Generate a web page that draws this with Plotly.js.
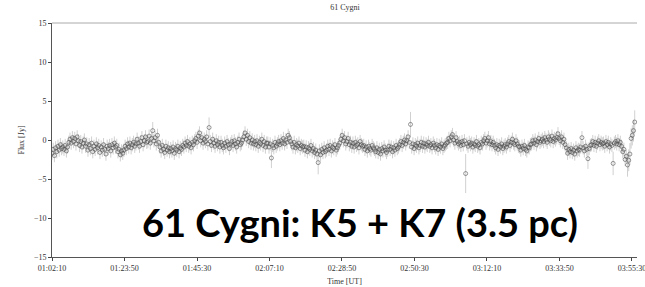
<!DOCTYPE html>
<html><head><meta charset="utf-8">
<script src="https://cdn.plot.ly/plotly-3.0.1.min.js"></script>
<style>body{margin:0;background:#fff}#c{width:645px;height:287px}</style>
</head><body><div id="c"></div>
<script>
// Observation start and sampling interval (seconds)
const startTime = '2000-01-01 01:02:10';
const sampleSec = 21.5;
// Flux values [Jy], in time order
const flux = [
-1.7,-1.2,-2.0,-1.0,-1.5,-0.8,-1.3,-0.6,-1.1,-0.9,
-1.2,-0.7,-1.4,-0.9,-0.3,0.1,-0.4,0.3,-0.2,0.2,
-0.5,0.4,-0.1,-0.7,-0.2,-0.9,-0.4,0.0,-0.8,-0.5,
-1.3,-0.6,-1.1,-0.4,-1.5,-0.8,-1.2,-0.5,-1.0,-0.7,
-1.6,-0.9,-1.3,-0.6,-1.2,-1.8,-0.8,-1.1,-0.7,-1.4,
-0.6,-1.0,-0.4,-0.9,-0.7,-1.5,-1.2,-1.9,-1.4,-1.7,
-1.3,-0.8,-1.1,-0.5,-0.9,-0.4,-1.0,-0.6,-0.3,-0.8,
-0.5,0.1,-0.4,-0.8,-0.2,0.3,-0.6,-0.1,0.4,-0.3,
-0.2,0.5,-0.4,0.2,1.2,-0.1,0.3,-0.5,0.6,-0.3,
-0.9,-1.4,-0.7,-1.2,-1.6,-0.8,-1.3,-1.0,-1.5,-1.1,
-1.4,-0.9,-1.7,-1.1,-1.3,-0.8,-1.5,-1.0,-1.2,-0.7,
-0.9,-0.4,-0.7,-0.2,-0.8,-0.5,-1.0,-0.3,-0.6,-0.1,
0.2,-0.3,0.5,0.9,-0.1,0.3,-0.4,0.1,-0.2,0.4,
-0.5,1.6,-0.2,-0.7,0.1,-0.4,-0.8,-0.1,-0.6,-0.3,
-0.9,-0.3,-0.7,-1.0,-0.4,-0.8,-0.2,-0.6,-1.1,-0.5,
-0.2,-0.7,-0.1,-0.5,-0.9,-0.3,0.1,-0.6,-0.4,0.0,
0.4,0.9,0.1,0.6,-0.2,0.3,-0.4,0.0,-0.5,-0.2,
-0.6,-0.1,-0.8,-0.3,-0.5,0.1,-0.7,-0.2,-0.9,-0.4,
-0.4,-0.9,-0.5,-2.3,-0.7,-1.0,-0.3,-0.8,-0.5,-0.2,
-0.6,-0.1,-0.4,0.2,-0.5,0.0,-0.3,0.6,0.3,-0.2,
-0.5,-0.9,-0.3,-1.0,-0.6,-0.8,-0.4,-1.1,-0.7,-0.9,
-0.8,-1.3,-0.9,-1.5,-1.0,-1.2,-0.7,-1.4,-1.1,-1.6,
-1.3,-1.8,-2.9,-1.4,-1.9,-1.2,-1.6,-1.0,-1.5,-1.3,
-0.8,-1.2,-0.7,-1.4,-0.9,-1.1,-0.6,-1.3,-1.0,-0.7,
-0.4,0.1,0.6,-0.1,0.3,-0.5,-0.2,0.2,-0.6,-0.3,
-0.8,-0.4,-0.9,-0.3,-0.7,-0.5,-1.0,-0.2,-0.6,-0.8,
-0.7,-1.2,-0.9,-1.4,-0.8,-1.1,-1.3,-0.7,-1.0,-1.2,
-1.5,-1.0,-1.6,-1.2,-1.8,-1.1,-1.4,-0.9,-1.3,-1.6,
-1.3,-0.8,-1.2,-0.9,-1.5,-1.0,-1.3,-0.7,-1.1,-0.9,
-0.6,-0.2,-0.7,-0.3,0.0,-0.5,-0.1,0.4,-0.3,2.0,
-0.9,-0.5,-1.1,-0.6,-0.8,-0.4,-1.0,-0.7,-0.3,-0.8,
-0.4,-0.9,-0.5,-0.7,-0.3,-0.8,-0.6,-1.0,-0.4,-0.7,
-1.0,-0.6,-1.2,-0.7,-0.9,-0.5,-1.1,-0.8,-0.6,-0.4,
-0.3,0.2,-0.1,0.4,0.7,0.0,-0.4,0.3,-0.2,-0.5,
-0.3,-0.7,-0.2,-0.6,-0.1,-4.3,-0.5,-0.8,-0.3,-0.6,
-0.4,-0.9,-0.5,-0.7,-0.2,-0.8,-0.6,-1.0,-0.3,-0.5,
-0.1,0.2,-0.4,-0.1,0.3,-0.5,-0.2,-0.6,-0.3,-0.7,
-1.0,-0.6,-1.2,-0.7,-0.9,-0.5,-1.1,-0.8,-0.6,-0.9,
-0.5,-0.2,-0.7,-0.3,0.1,-0.4,-0.6,-0.1,-0.5,-0.8,
-0.9,-1.3,-0.8,-1.1,-0.7,-1.2,-1.4,-0.9,-1.0,-0.6,
-0.5,-0.1,-0.4,0.0,-0.6,-0.2,0.2,-0.3,-0.1,0.1,
-0.2,0.3,0.0,-0.3,0.4,0.1,-0.1,0.5,-0.2,0.2,
0.0,0.3,0.8,0.2,-0.1,0.4,-0.3,0.1,-0.6,-1.0,
-1.7,-1.2,-1.5,-1.1,-1.6,-1.3,-1.8,-1.0,-1.4,-1.2,
-1.3,-0.9,0.3,-1.0,-1.4,-0.8,-1.2,-2.4,-1.1,-0.7,
-0.6,-0.2,-0.7,-0.3,-0.8,-0.4,-0.1,-0.6,-0.3,-0.5,
-0.4,-0.8,-0.2,-0.6,-0.3,-0.9,-0.5,-0.7,-3.0,-0.4,
-0.2,-0.5,-0.1,-0.6,-0.3,-0.8,-1.5,-1.2,-2.5,-2.1,
-3.2,-2.6,-1.8,0.2,0.6,1.2,2.3
];
// Typical flux uncertainty and the larger ones (index: error)
const errTypical = 0.85;
const errLarge = {84:1.1, 131:1.3, 183:1.3, 222:1.5, 299:1.6, 345:2.5, 447:1.3, 468:1.5,
  480:1.5, 481:1.4, 482:1.4, 483:1.3, 484:1.3, 485:1.4, 486:1.5};
const tickLabels = ['01:02:10','01:23:50','01:45:30','02:07:10','02:28:50','02:50:30','03:12:10','03:33:50','03:55:30'];

const t0 = new Date(startTime.replace(' ','T')+'Z').getTime();
const fmt = ms => { const d = new Date(ms); const p=n=>String(n).padStart(2,'0');
  return '2000-01-01 '+p(d.getUTCHours())+':'+p(d.getUTCMinutes())+':'+p(d.getUTCSeconds())+'.'+String(d.getUTCMilliseconds()).padStart(3,'0'); };
const times = flux.map((_,i)=>fmt(t0 + i*sampleSec*1000));
const errs = flux.map((_,i)=> errLarge[i] !== undefined ? errLarge[i] : errTypical);
const tickVals = tickLabels.map(s=>'2000-01-01 '+s);

const serif = 'Liberation Serif, Times New Roman, serif';
Plotly.newPlot('c', [{
  x: times, y: flux, type: 'scatter', mode: 'markers',
  marker: {symbol: 'circle-open', size: 4, color: 'rgba(70,70,70,0.55)', line: {width: 1}},
  error_y: {type: 'data', array: errs, visible: true, color: 'rgba(150,150,150,0.45)', thickness: 1, width: 0}
}], {
  width: 645, height: 287,
  margin: {l: 52, r: 8, t: 23, b: 30},
  paper_bgcolor: '#fff', plot_bgcolor: '#fff',
  showlegend: false,
  title: {text: '61 Cygni', font: {family: serif, size: 8, color: '#333'}, x: 0.535, xanchor: 'center', y: 0.975, yanchor: 'middle'},
  xaxis: {
    type: 'date', range: ['2000-01-01 01:02:10', fmt(t0 + 10490*1000)],
    tickvals: tickVals, ticktext: tickLabels, ticks: 'outside', ticklen: 3, tickcolor: '#444',
    ticklabeloverflow: 'allow',
    showgrid: false, zeroline: false, showline: true, linecolor: '#555', linewidth: 1,
    tickfont: {family: serif, size: 8, color: '#333'},
    title: {text: 'Time [UT]', font: {family: serif, size: 8, color: '#333'}, standoff: 6}
  },
  yaxis: {
    range: [-15, 15], tickvals: [-15,-10,-5,0,5,10,15], ticks: 'outside', ticklen: 3, tickcolor: '#444',
    showgrid: false, zeroline: false, showline: true, linecolor: '#555', linewidth: 1,
    tickfont: {family: serif, size: 8, color: '#333'},
    title: {text: 'Flux [Jy]', font: {family: serif, size: 8, color: '#333'}, standoff: 8}
  },
  shapes: [{type: 'line', xref: 'paper', yref: 'paper', x0: 0, x1: 1, y0: 1, y1: 1, line: {color: '#aaa', width: 1}}],
  annotations: [{
    text: '<b>61 Cygni: K5 + K7 (3.5 pc)</b>', xref: 'paper', yref: 'paper', x: 0.527, y: 0.148,
    xanchor: 'center', yanchor: 'middle', showarrow: false,
    font: {family: 'Lato, Open Sans, sans-serif', size: 38, color: '#000'}
  }]
}, {displayModeBar: false, staticPlot: true});
</script></body></html>
